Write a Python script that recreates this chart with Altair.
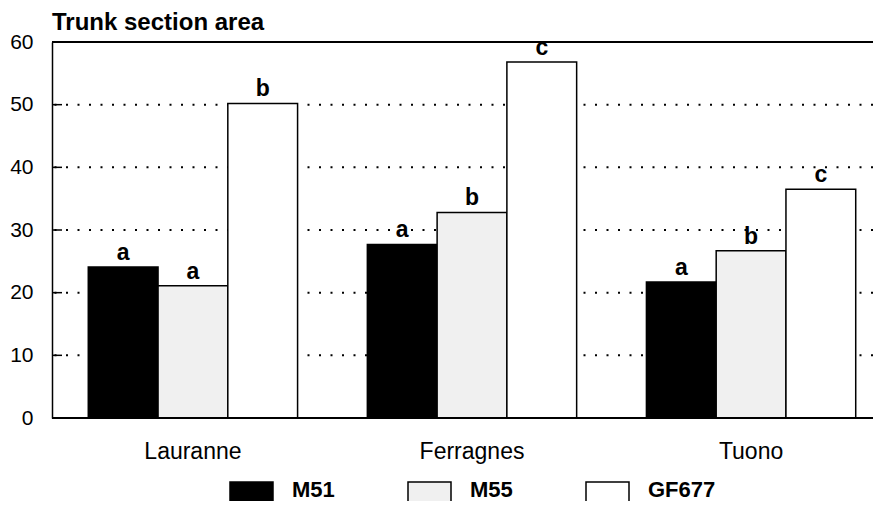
import altair as alt
import pandas as pd

groups = ["Lauranne", "Ferragnes", "Tuono"]
series = ["M51", "M55", "GF677"]
m51 = [24.1, 27.7, 21.7]
m55 = [21.1, 32.8, 26.7]
gf677 = [50.2, 56.8, 36.5]
m51_letters = ["a", "a", "a"]
m55_letters = ["a", "b", "b"]
gf677_letters = ["b", "c", "c"]
y_ticks = [0, 10, 20, 30, 40, 50, 60]
grid_values = [10, 20, 30, 40, 50]
colors = ["#000000", "#f0f0f0", "#ffffff"]

rows = []
for s, vals, lets in zip(series, [m51, m55, gf677], [m51_letters, m55_letters, gf677_letters]):
    for g, v, l in zip(groups, vals, lets):
        rows.append({"group": g, "series": s, "value": v, "letter": l})
df = pd.DataFrame(rows)
ticks_df = pd.DataFrame({"t": y_ticks})
grid_df = pd.DataFrame({"g": grid_values})

FONT = "Liberation Sans"
W, H = 821, 376

x = alt.X(
    "group:N", sort=groups, title=None,
    scale=alt.Scale(range=[0, 840], paddingInner=0.25, paddingOuter=0.13),
    axis=alt.Axis(labelAngle=0, labelFontSize=23, labelFont=FONT, labelColor="black",
                  ticks=False, labelPadding=22, domain=False, grid=False),
)
xo = alt.XOffset("series:N", sort=series)
y = alt.Y(
    "value:Q", title=None,
    scale=alt.Scale(domain=[0, 60], nice=False),
    axis=alt.Axis(values=y_ticks, labelFontSize=21, labelFont=FONT, labelColor="black",
                  ticks=False, labelPadding=19, grid=False,
                  domainColor="black", domainWidth=1.5),
)

grid = alt.Chart(grid_df).mark_rule(color="black", strokeWidth=2, strokeDash=[2, 9.5]).encode(
    y=alt.Y("g:Q", title=None)
)

bars = alt.Chart(df).mark_bar(stroke="black", strokeWidth=1.5).encode(
    x=x, xOffset=xo, y=y,
    color=alt.Color(
        "series:N", sort=series,
        scale=alt.Scale(domain=series, range=colors),
        legend=alt.Legend(
            title=None, orient="none", legendX=177, legendY=425.5, direction="horizontal",
            symbolType="M-1,-0.372H1V1H-1Z", symbolSize=1849,
            symbolStrokeColor="black", symbolStrokeWidth=1.5, symbolOpacity=1,
            labelFontSize=22, labelFontWeight="bold", labelFont=FONT, labelColor="black",
            labelOffset=18, columnPadding=70, padding=0,
        ),
    ),
)

text = alt.Chart(df).mark_text(
    baseline="alphabetic", dy=-7, fontSize=23, fontWeight="bold", font=FONT, color="black"
).encode(x=x, xOffset=xo, y=alt.Y("value:Q", title=None), text="letter:N")

tick_rules = alt.Chart(ticks_df).mark_rule(color="black", strokeWidth=1.5).encode(
    y=alt.Y("t:Q", title=None), x=alt.value(0), x2=alt.value(10)
)

top_rule = alt.Chart(ticks_df).mark_rule(color="black", strokeWidth=1.5).encode(
    y=alt.datum(60)
)
bottom_rule = alt.Chart(ticks_df).mark_rule(color="black", strokeWidth=1.5).encode(
    y=alt.datum(0)
)

chart = alt.layer(grid, bars, text, tick_rules, top_rule, bottom_rule).properties(
    width=W, height=H,
    title=alt.Title("Trunk section area", anchor="start", frame="group", fontSize=24,
                    font=FONT, fontWeight="bold", color="black", offset=-4),
    autosize=alt.AutoSizeParams(type="none"),
    padding={"left": 44, "top": 34, "right": 0, "bottom": 83},
).configure_view(stroke=None)

chart.save("out.html", embed_options={"renderer": "svg", "actions": False})
